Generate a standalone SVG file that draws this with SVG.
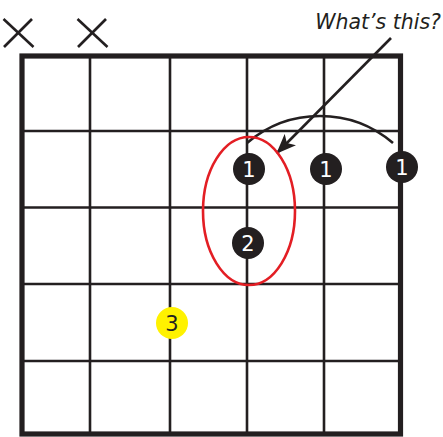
<svg xmlns="http://www.w3.org/2000/svg" width="443" height="437" viewBox="0 0 443 437">
<style>
.grid{stroke:#231f20;stroke-width:2.6;fill:none}
.frame{stroke:#231f20;stroke-width:5.2;fill:none}
.mute{stroke:#231f20;stroke-width:2.6;fill:none;stroke-linecap:butt}
.dot{fill:#231f20}
.num{font-family:"DejaVu Sans",Verdana,sans-serif;font-size:21px;text-anchor:middle}
.conn{stroke:#231f20;stroke-width:2.6;fill:none}
</style>
<defs>
<marker id="ah" viewBox="0 0 20 16" refX="19" refY="8" markerWidth="20" markerHeight="16" markerUnits="userSpaceOnUse" orient="auto">
<path d="M0,0 L20,8 L0,16 L5,8 Z" fill="#231f20"/>
</marker>
</defs>
<rect width="443" height="437" fill="#ffffff"/>
<g id="grid">
<line class="grid" x1="90" y1="56" x2="90" y2="434"/>
<line class="grid" x1="170" y1="56" x2="170" y2="434"/>
<line class="grid" x1="247" y1="56" x2="247" y2="434"/>
<line class="grid" x1="324" y1="56" x2="324" y2="434"/>
<line class="grid" x1="22" y1="131" x2="400.5" y2="131"/>
<line class="grid" x1="22" y1="207.5" x2="400.5" y2="207.5"/>
<line class="grid" x1="22" y1="284" x2="400.5" y2="284"/>
<line class="grid" x1="22" y1="361" x2="400.5" y2="361"/>
<rect class="frame" x="22" y="56" width="378.5" height="378"/>
</g>
<g id="mute1">
<line class="mute" x1="3.5" y1="19" x2="33.5" y2="47"/>
<line class="mute" x1="32" y1="19" x2="4" y2="47"/>
</g>
<g id="mute2">
<line class="mute" x1="77.5" y1="19" x2="107.5" y2="47"/>
<line class="mute" x1="106" y1="19" x2="78" y2="47"/>
</g>
<g id="connectors">
<path class="conn" d="M247,143 A112,112 0 0 1 393,143"/>
<line class="conn" x1="391" y1="38" x2="277" y2="153" marker-end="url(#ah)"/>
</g>
<g id="oval">
<ellipse cx="249" cy="211" rx="46" ry="74" fill="none" stroke="#e31e24" stroke-width="2.6"/>
</g>
<g id="f1a">
<circle class="dot" cx="249" cy="169" r="16"/>
<text class="num" x="249" y="177" fill="#ffffff">1</text>
</g>
<g id="f1b">
<circle class="dot" cx="326" cy="169" r="16"/>
<text class="num" x="326" y="177" fill="#ffffff">1</text>
</g>
<g id="f1c">
<circle class="dot" cx="402" cy="167" r="16"/>
<text class="num" x="402" y="175" fill="#ffffff">1</text>
</g>
<g id="f2">
<circle class="dot" cx="248" cy="243" r="16"/>
<text class="num" x="248" y="251" fill="#ffffff">2</text>
</g>
<g id="f3">
<circle cx="172" cy="323" r="16" fill="#fff200"/>
<text class="num" x="172" y="331" fill="#231f20">3</text>
</g>
<g id="label">
<text x="441" y="28.5" font-family="'DejaVu Sans',Verdana,sans-serif" font-size="20.5" font-style="italic" text-anchor="end" fill="#231f20">What’s this?</text>
</g>
</svg>
